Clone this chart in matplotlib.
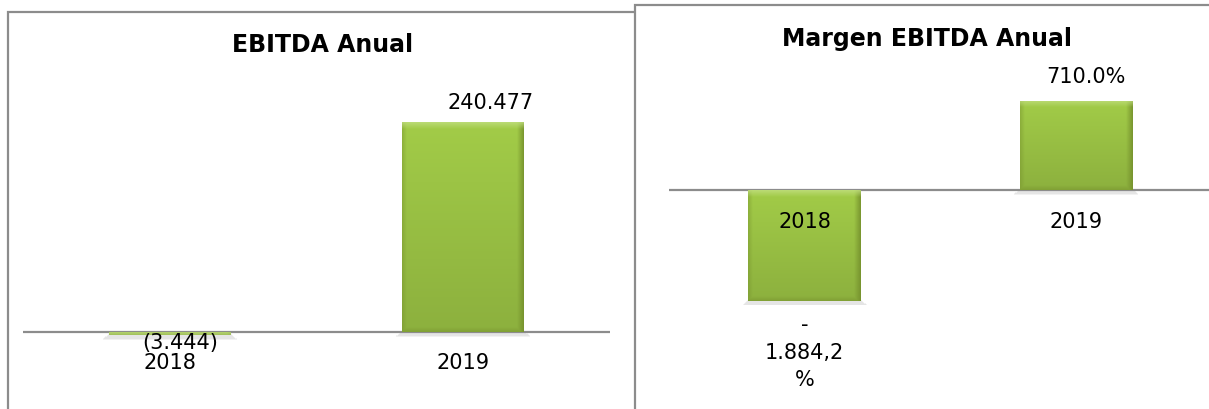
import numpy as np
import matplotlib.pyplot as plt
from matplotlib.patches import Rectangle

# Chart data
years = ["2018", "2019"]

ebitda = [-3444, 240477]
ebitda_labels = ["(3.444)", "240.477"]

# bar lengths as drawn in the source chart (its labels do not match the bar lengths)
margen = [-1884.2, 1520.0]
margen_labels = ["-\n1.884,2\n%", "710.0%"]

W, H = 1209, 409
fig = plt.figure(figsize=(W / 100, H / 100), dpi=100)

GRAY = "#8c8c8c"
BASE = np.array([0x9c, 0xc4, 0x45]) / 255
DARK = np.array([0x74, 0x8f, 0x2c]) / 255
LIGHT = np.array([0xc2, 0xdf, 0x82]) / 255


def px_axes(x0, y0, x1, y1):
    """axes from pixel box (top-left origin)"""
    ax = fig.add_axes([x0 / W, 1 - y1 / H, (x1 - x0) / W, (y1 - y0) / H])
    ax.set_facecolor("none")
    for s in ax.spines.values():
        s.set_visible(False)
    ax.set_xticks([])
    ax.set_yticks([])
    return ax


def bevel_bars(ax, bars):
    """paint a bevelled green gradient over each bar, plus a soft shadow"""
    for b in bars:
        x, y = b.get_x(), b.get_y()
        w, h = b.get_width(), b.get_height()
        p0 = ax.transData.transform((x, y))
        p1 = ax.transData.transform((x + w, y + h))
        nx = max(int(abs(p1[0] - p0[0])), 2)
        ny = max(int(abs(p1[1] - p0[1])), 2)
        xx = np.arange(nx)[None, :] + 0.5
        yy = np.arange(ny)[:, None] + 0.5
        t = yy / ny
        img = BASE[None, None, :] * (1.04 - 0.14 * t[..., None])
        img = np.broadcast_to(img, (ny, nx, 3)).copy()
        right = np.clip(1 - (nx - xx) / 7, 0, 1) * 0.9
        left = np.clip(1 - xx / 5, 0, 1) * 0.45
        bottom = np.clip(1 - (ny - yy) / 5, 0, 1) * 0.5
        edge = np.maximum(np.maximum(right, left), bottom)
        img = img * (1 - edge[..., None]) + DARK * edge[..., None]
        top = np.clip(1 - yy / 7, 0, 1) * 0.8
        top = np.broadcast_to(top, (ny, nx))
        img = img * (1 - top[..., None]) + LIGHT * top[..., None]
        img = np.clip(img, 0, 1)
        ymin, ymax = min(y, y + h), max(y, y + h)
        im = ax.imshow(img, extent=[x, x + w, ymin, ymax],
                       origin="upper", aspect="auto", zorder=3)
        im.set_clip_path(b)

        # soft shadow under the bar
        lo = ax.transData.transform((x, ymin))
        dy = ax.transData.inverted().transform((lo[0], lo[1] - 1))[1] - ymin
        for k in range(1, 6):
            ax.add_patch(Rectangle((x - 0.004 * k, ymin + dy * k), w + 0.008 * k, -dy * 2,
                                   facecolor="black", alpha=0.05, lw=0, zorder=1))


# panel frames
fig.patches.append(Rectangle((8 / W, -0.1), 1.2, 1.1 - 12 / H, transform=fig.transFigure,
                             facecolor="white", edgecolor=GRAY, lw=1.6, zorder=-3))
fig.patches.append(Rectangle((635 / W, -0.1), 1.2, 1.1 - 5 / H, transform=fig.transFigure,
                             facecolor="white", edgecolor=GRAY, lw=1.6, zorder=-2))

FS = 15

# ---------------- EBITDA Anual ----------------
ax1 = px_axes(23, 60, 610, 345)
s1 = ebitda[1] / 210.0
ylim1 = (-(345 - 332) * s1, (332 - 60) * s1)
ax1.set_xlim(-0.5, 1.5)
ax1.set_ylim(*ylim1)
ax1.axhline(0, color=GRAY, lw=1.6, zorder=2)
bars1 = ax1.bar(range(len(years)), ebitda, width=0.415, color=BASE, zorder=3)
bevel_bars(ax1, bars1)
ax1.set_xlim(-0.5, 1.5)
ax1.set_ylim(*ylim1)

ax1.annotate(ebitda_labels[0], xy=(0, ebitda[0]), xytext=(10, -8), textcoords="offset pixels",
             ha="center", va="center", fontsize=FS, zorder=5)
ax1.annotate(ebitda_labels[1], xy=(1, ebitda[1]), xytext=(27, 19), textcoords="offset pixels",
             ha="center", va="center", fontsize=FS, zorder=5)
for i, yr in enumerate(years):
    ax1.annotate(yr, xy=(i, 0), xytext=(0, -31), textcoords="offset pixels",
                 ha="center", va="center", fontsize=FS, zorder=5)

fig.text(323 / W, 1 - 45 / H, "EBITDA Anual", ha="center", va="center",
         fontsize=17, fontweight="bold")

# ---------------- Margen EBITDA Anual ----------------
ax2 = px_axes(669, 60, 1212, 320)
s2 = -margen[0] / 110.5
ylim2 = (-(320 - 190) * s2, (190 - 60) * s2)
ax2.set_xlim(-0.5, 1.5)
ax2.set_ylim(*ylim2)
ax2.axhline(0, color=GRAY, lw=1.6, zorder=2)
bars2 = ax2.bar(range(len(years)), margen, width=0.416, color=BASE, zorder=3)
bevel_bars(ax2, bars2)
ax2.set_xlim(-0.5, 1.5)
ax2.set_ylim(*ylim2)

for i, yr in enumerate(years):
    ax2.annotate(yr, xy=(i, 0), xytext=(0, -32), textcoords="offset pixels",
                 ha="center", va="center", fontsize=FS, zorder=5)
ax2.annotate(margen_labels[1], xy=(1, margen[1]), xytext=(10, 24), textcoords="offset pixels",
             ha="center", va="center", fontsize=FS, zorder=5)
ax2.annotate(margen_labels[0], xy=(0, margen[0]), xytext=(0, -52), textcoords="offset pixels",
             ha="center", va="center", fontsize=FS, linespacing=1.45, zorder=5,
             annotation_clip=False)

fig.text(927 / W, 1 - 39 / H, "Margen EBITDA Anual", ha="center", va="center",
         fontsize=17, fontweight="bold")

fig.savefig("out.png", dpi=100)
